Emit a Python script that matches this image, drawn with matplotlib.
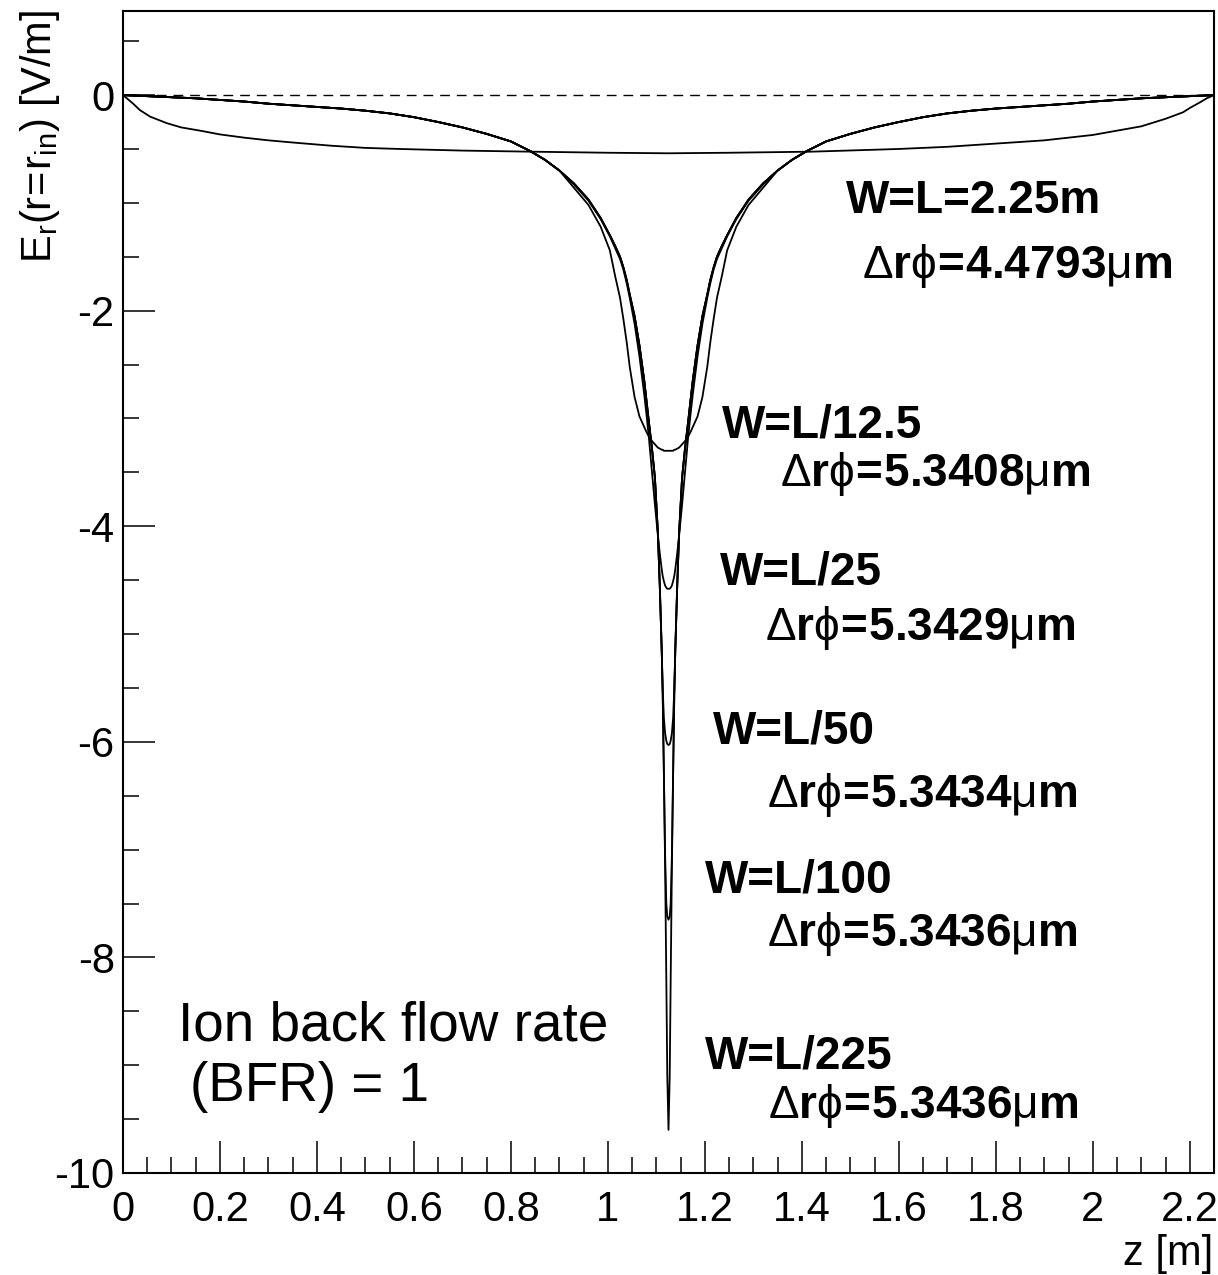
import matplotlib
matplotlib.use("Agg")
import matplotlib.pyplot as plt
from matplotlib.ticker import MultipleLocator, FuncFormatter

plt.rcParams["font.family"] = ["Liberation Sans", "DejaVu Sans"]
plt.rcParams["mathtext.fontset"] = "custom"
plt.rcParams["mathtext.rm"] = "Liberation Sans"
plt.rcParams["mathtext.bf"] = "Liberation Sans:bold"
plt.rcParams["mathtext.it"] = "Liberation Sans:italic"
plt.rcParams["mathtext.sf"] = "Liberation Sans"
plt.rcParams["axes.unicode_minus"] = False

# ---------------------------------------------------------------- data
# Outer part of the narrow-charge-band profiles (identical for all of them)
tail_z_left = [0.00, 0.05, 0.10, 0.15, 0.20, 0.25, 0.30, 0.35, 0.40, 0.45,
               0.50, 0.55, 0.60, 0.65, 0.70, 0.75, 0.80, 0.84, 0.87, 0.90]
tail_z_right = [1.35, 1.38, 1.41, 1.45, 1.50, 1.55, 1.60, 1.65, 1.70, 1.75,
                1.80, 1.85, 1.90, 1.95, 2.00, 2.05, 2.10, 2.15, 2.20, 2.25]
tail_er = [0.00, -0.01, -0.02, -0.03, -0.045, -0.06, -0.08, -0.095, -0.11, -0.125,
           -0.145, -0.17, -0.205, -0.25, -0.30, -0.36, -0.43, -0.52, -0.60, -0.70]

# Core region around the band centre z = 1.125 m
core_z_left = [0.930, 0.960, 0.985, 1.004, 1.015, 1.025, 1.032, 1.039, 1.045,
               1.055, 1.065, 1.075, 1.080, 1.085, 1.091, 1.097, 1.103, 1.107,
               1.111, 1.113, 1.1155, 1.118, 1.1205, 1.1225, 1.125]
core_z_right = [1.1275, 1.1295, 1.132, 1.1345, 1.137, 1.139, 1.143, 1.147,
                1.153, 1.159, 1.165, 1.170, 1.175, 1.185, 1.195, 1.205, 1.211,
                1.218, 1.225, 1.235, 1.246, 1.265, 1.290, 1.320]

er_L12_5 = [-0.86, -1.02, -1.22, -1.44, -1.68, -1.88, -2.08, -2.30, -2.52,
            -2.80, -2.98, -3.08, -3.13, -3.17, -3.21, -3.24, -3.27, -3.28,
            -3.29, -3.29, -3.30, -3.30, -3.30, -3.30, -3.30]
er_L25 = [-0.83, -0.98, -1.15, -1.31, -1.42, -1.52, -1.62, -1.75, -1.88,
          -2.12, -2.42, -2.78, -2.98, -3.20, -3.50, -3.80, -4.08, -4.25,
          -4.40, -4.46, -4.51, -4.55, -4.57, -4.58, -4.58]
er_L50 = [-0.82, -0.97, -1.14, -1.30, -1.40, -1.50, -1.60, -1.72, -1.85,
          -2.05, -2.32, -2.65, -2.85, -3.05, -3.28, -3.55, -4.05, -4.55,
          -5.15, -5.50, -5.78, -5.92, -5.99, -6.02, -6.03]
er_L100 = [-0.82, -0.97, -1.14, -1.30, -1.40, -1.50, -1.60, -1.72, -1.85,
           -2.05, -2.32, -2.65, -2.85, -3.05, -3.28, -3.55, -4.05, -4.55,
           -5.15, -5.55, -6.30, -7.05, -7.50, -7.62, -7.65]
er_L225 = [-0.82, -0.97, -1.14, -1.30, -1.40, -1.50, -1.60, -1.72, -1.85,
           -2.05, -2.32, -2.65, -2.85, -3.05, -3.28, -3.55, -4.05, -4.55,
           -5.15, -5.55, -6.30, -7.15, -8.20, -9.10, -9.60]

# Full-width case W = L = 2.25 m
z_full = [0.000, 0.008, 0.021, 0.035, 0.056, 0.090, 0.120, 0.159, 0.200, 0.250,
          0.300, 0.350, 0.430, 0.500, 0.570, 0.700, 0.840, 1.000, 1.125, 1.250,
          1.420, 1.600, 1.700, 1.800, 1.900, 2.000, 2.050, 2.100, 2.150, 2.186,
          2.200, 2.220, 2.235, 2.250]
er_full = [0.00, -0.03, -0.08, -0.14, -0.20, -0.26, -0.30, -0.33, -0.365, -0.395,
           -0.42, -0.44, -0.47, -0.49, -0.50, -0.515, -0.525, -0.535, -0.54, -0.535,
           -0.525, -0.50, -0.48, -0.45, -0.42, -0.37, -0.33, -0.29, -0.22, -0.16,
           -0.12, -0.07, -0.03, 0.00]

labels_w = ["W=L=2.25m", "W=L/12.5", "W=L/25", "W=L/50", "W=L/100", "W=L/225"]
labels_d = ["4.4793", "5.3408", "5.3429", "5.3434", "5.3436", "5.3436"]

# ---------------------------------------------------------------- figure
fig = plt.figure(figsize=(12.18, 12.75), dpi=100)
ax = fig.add_axes([123 / 1218, 1 - 1173 / 1275, (1214 - 123) / 1218, (1173 - 11) / 1275])

ax.axhline(0.0, color="black", lw=1.0, dashes=(7, 5))

ax.plot(z_full, er_full, color="black", lw=1.3)
for er in (er_L12_5, er_L25, er_L50, er_L100, er_L225):
    z = tail_z_left + core_z_left + core_z_right + tail_z_right
    e = tail_er + er + er[-2::-1] + tail_er[::-1]
    ax.plot(z, e, color="black", lw=1.3)

ax.set_xlim(0, 2.25)
ax.set_ylim(-10, 0.78)

ax.xaxis.set_major_locator(MultipleLocator(0.2))
ax.xaxis.set_minor_locator(MultipleLocator(0.05))
ax.yaxis.set_major_locator(MultipleLocator(2))
ax.yaxis.set_minor_locator(MultipleLocator(0.5))
fmt = FuncFormatter(lambda v, p: "%g" % round(v, 6))
ax.xaxis.set_major_formatter(fmt)
ax.yaxis.set_major_formatter(fmt)

ax.tick_params(which="both", direction="in", top=False, right=False,
               width=1.1, labelsize=30)
ax.tick_params(which="major", length=23)
ax.tick_params(which="minor", length=11.5)
ax.tick_params(axis="x", pad=12)
ax.tick_params(axis="y", pad=6)
for s in ax.spines.values():
    s.set_linewidth(1.5)

# axis titles
fig.text(1213 / 1218, 1 - 1265 / 1275, "z [m]", ha="right", va="baseline", fontsize=30)
fig.text(40 / 1218, 1 - 10 / 1275, r"$\mathregular{E_r(r\!=\!r_{in})\ [V/m]}$",
         rotation=90, ha="center", va="top", fontsize=30)

# annotations
w_pos = [(1.491, -1.093), (1.235, -3.176), (1.231, -4.537),
         (1.216, -6.019), (1.200, -7.398), (1.200, -9.028)]
d_pos = [(1.524, -1.694), (1.355, -3.630), (1.324, -5.056),
         (1.328, -6.602), (1.328, -7.898), (1.330, -9.490)]
for txt, (x, y) in zip(labels_w, w_pos):
    ax.text(x, y, txt, fontsize=33, fontweight="bold", ha="left", va="baseline")
for val, (x, y) in zip(labels_d, d_pos):
    s = (r"$\mathrm{\Delta}\mathbf{r}\mathrm{\phi}\!\mathbf{=}\!\mathbf{" + val +
         r"}\mathrm{\mu}\mathbf{m}$")
    ax.text(x, y, s, fontsize=33, ha="left", va="baseline")

ax.text(0.113, -8.77, "Ion back flow rate", fontsize=39.5, ha="left", va="baseline")
ax.text(0.138, -9.33, "(BFR) = 1", fontsize=39.5, ha="left", va="baseline")

fig.savefig("out.png", dpi=100)
